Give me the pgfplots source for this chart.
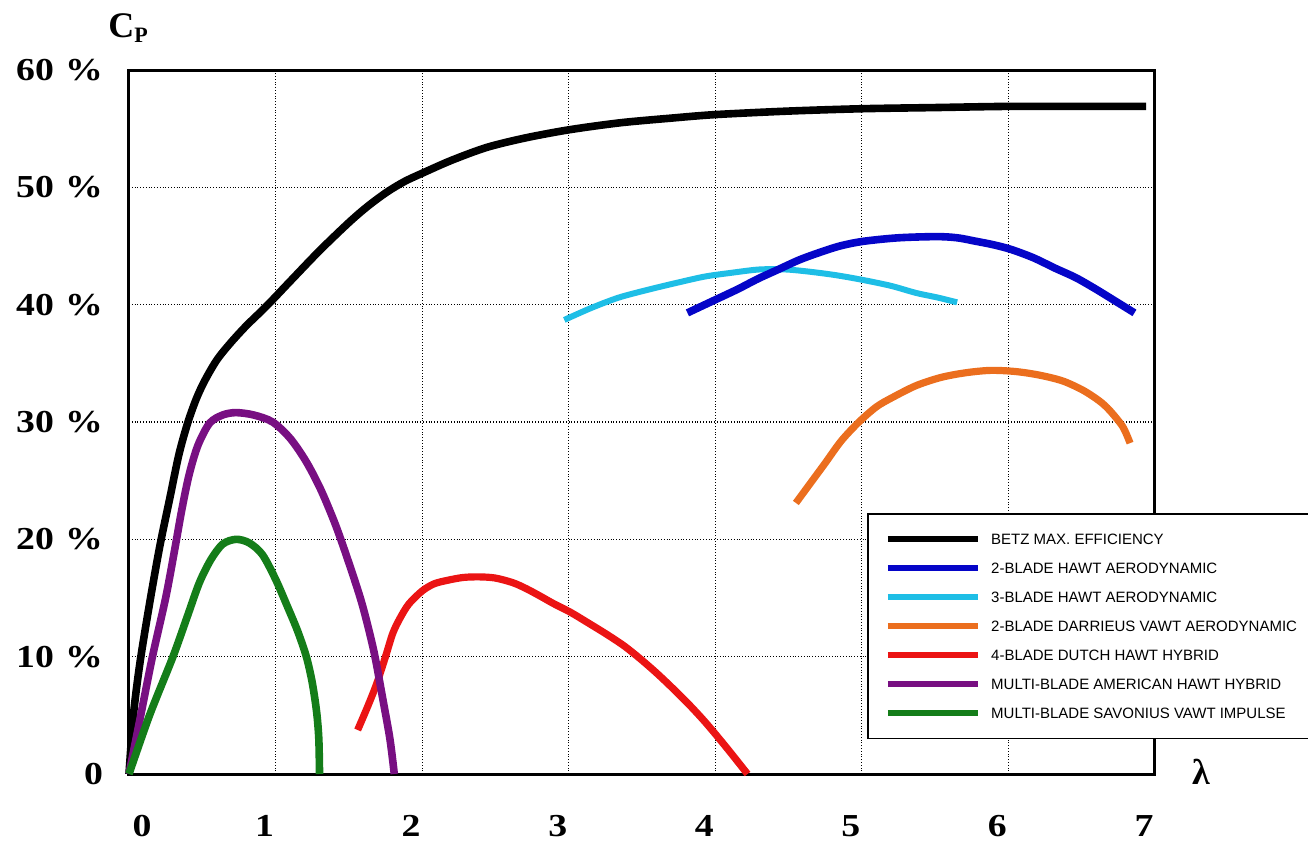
\documentclass[border=0pt]{standalone}
\usepackage{fontspec}
\setmainfont{Liberation Serif}
\newfontfamily\legfont{Liberation Sans}
\newfontfamily\tickfont[FakeStretch=1.18]{Liberation Serif}
\usepackage{pgfplots}
\pgfplotsset{compat=1.18}
\definecolor{cpblue}{RGB}{5,5,200}
\definecolor{cpcyan}{RGB}{30,190,230}
\definecolor{cporange}{RGB}{235,110,30}
\definecolor{cpred}{RGB}{235,20,20}
\definecolor{cppurple}{RGB}{120,15,130}
\definecolor{cpgreen}{RGB}{20,125,25}
\begin{document}
\begin{tikzpicture}
\useasboundingbox (0,0) rectangle (654pt,421pt);
\begin{axis}[
  at={(64.5pt,34pt)}, anchor=south west,
  scale only axis, width=513pt, height=352pt,
  xmin=0, xmax=7, ymin=0, ymax=60,
  xtick={0,1,2,3,4,5,6,7},
  ytick={0,10,20,30,40,50,60},
  xticklabels={\hspace*{24pt}0,1,2,3,4,5,6,7},
  yticklabels={0,10\hspace{0.35em}\%,20\hspace{0.35em}\%,30\hspace{0.35em}\%,40\hspace{0.35em}\%,50\hspace{0.35em}\%,60\hspace{0.35em}\%},
  major tick length=0pt,
  grid=major,
  major grid style={densely dotted, black, line width=0.6pt},
  axis line style={line width=1.5pt},
  tick label style={font=\tickfont\bfseries\fontsize{16}{16}\selectfont},
  xticklabel style={yshift=-17pt, xshift=-5.5pt},
  yticklabel style={xshift=-9.5pt},
  clip=false,
  legend cell align=left,
  legend style={at={(0.7193,0.3707)}, anchor=north west, draw=black, line width=0.8pt, fill=white,
    inner xsep=8.5pt, inner ysep=10pt,
    font=\legfont\fontsize{7.5}{9}\selectfont,
    /tikz/column sep=5pt, /tikz/row sep=9.1pt,
    nodes={inner sep=0pt, text height=5.4pt, text depth=0pt}},
  legend image code/.code={\draw[#1,line width=3.2pt] (0pt,0pt) -- (45pt,0pt);},
]
\addplot[black, smooth, line width=3.8pt] coordinates {(0,0) (0.03,5) (0.075,9.5) (0.14,14.5) (0.21,19.4) (0.28,23.6) (0.34,27.2) (0.40,29.9) (0.46,32.0) (0.52,33.6) (0.60,35.3) (0.69,36.7) (0.80,38.2) (0.94,39.9) (1.10,42.0) (1.30,44.6) (1.50,47.0) (1.63,48.4) (1.76,49.6) (1.88,50.5) (2.0,51.2) (2.2,52.3) (2.44,53.4) (2.7,54.2) (3.0,54.9) (3.35,55.5) (3.7,55.9) (4.0,56.2) (4.5,56.5) (5.0,56.7) (5.5,56.8) (6.0,56.9) (6.5,56.9) (6.94,56.9)};
\addlegendentry{BETZ MAX. EFFICIENCY}
\addplot[cpcyan, smooth, line width=3pt, forget plot] coordinates {(2.97,38.7) (3.15,39.7) (3.34,40.6) (3.55,41.3) (3.75,41.9) (3.93,42.4) (4.10,42.7) (4.30,43.0) (4.48,43.0) (4.65,42.8) (4.83,42.5) (5.01,42.1) (5.20,41.6) (5.37,41.0) (5.52,40.6) (5.65,40.2)};
\addplot[cpblue, smooth, line width=3.8pt] coordinates {(3.81,39.3) (3.98,40.3) (4.15,41.3) (4.29,42.2) (4.43,43.0) (4.57,43.8) (4.70,44.4) (4.85,45.0) (5.01,45.4) (5.25,45.7) (5.51,45.8) (5.65,45.7) (5.78,45.4) (5.90,45.1) (6.02,44.7) (6.17,44.0) (6.32,43.1) (6.46,42.3) (6.60,41.3) (6.73,40.3) (6.86,39.3)};
\addlegendentry{2-BLADE HAWT AERODYNAMIC}
\addlegendimage{cpcyan}
\addlegendentry{3-BLADE HAWT AERODYNAMIC}
\addplot[cporange, smooth, line width=3.6pt] coordinates {(4.55,23.1) (4.65,24.8) (4.75,26.5) (4.86,28.4) (4.98,30.0) (5.10,31.3) (5.21,32.1) (5.37,33.1) (5.54,33.8) (5.71,34.2) (5.88,34.4) (6.05,34.3) (6.21,34.0) (6.37,33.5) (6.51,32.7) (6.62,31.8) (6.69,31.0) (6.78,29.6) (6.83,28.2)};
\addlegendentry{2-BLADE DARRIEUS VAWT AERODYNAMIC}
\addplot[cpred, smooth, line width=3.6pt] coordinates {(1.56,3.75) (1.63,5.8) (1.69,7.7) (1.75,10.0) (1.80,12.0) (1.85,13.3) (1.91,14.5) (2.0,15.6) (2.08,16.2) (2.17,16.5) (2.28,16.75) (2.39,16.8) (2.50,16.7) (2.62,16.3) (2.71,15.8) (2.80,15.2) (2.90,14.5) (3.01,13.8) (3.13,12.9) (3.26,11.9) (3.38,10.9) (3.49,9.8) (3.60,8.6) (3.71,7.3) (3.83,5.8) (3.94,4.3) (4.08,2.2) (4.22,0)};
\addlegendentry{4-BLADE DUTCH HAWT HYBRID}
\addplot[cppurple, smooth, line width=3.8pt] coordinates {(0,0) (0.08,5) (0.16,10) (0.25,15) (0.31,19) (0.36,22.5) (0.41,25.5) (0.47,28.0) (0.55,29.9) (0.64,30.6) (0.73,30.8) (0.85,30.6) (0.98,30.0) (1.10,28.6) (1.21,26.6) (1.31,24.2) (1.41,21.2) (1.50,18.0) (1.59,14.5) (1.67,10.5) (1.73,6.5) (1.78,3) (1.81,0)};
\addlegendentry{MULTI-BLADE AMERICAN HAWT HYBRID}
\addplot[cpgreen, smooth, line width=3.8pt] coordinates {(0,0) (0.14,5) (0.30,10) (0.40,13.5) (0.48,16.3) (0.56,18.3) (0.64,19.6) (0.73,20.0) (0.82,19.7) (0.91,18.7) (1.00,16.6) (1.08,14.3) (1.15,12.2) (1.21,10.0) (1.25,7.8) (1.28,5.3) (1.295,3) (1.30,0)};
\addlegendentry{MULTI-BLADE SAVONIUS VAWT IMPULSE}
\end{axis}
\node[anchor=base west, inner sep=0pt] at (54pt,402pt) {\bfseries\fontsize{18}{18}\selectfont C\raisebox{-2.5pt}{\fontsize{11}{11}\selectfont P}};
\node[inner sep=0pt] at (600.5pt,35pt) {\bfseries\fontsize{18}{18}\selectfont λ};
\end{tikzpicture}
\end{document}
